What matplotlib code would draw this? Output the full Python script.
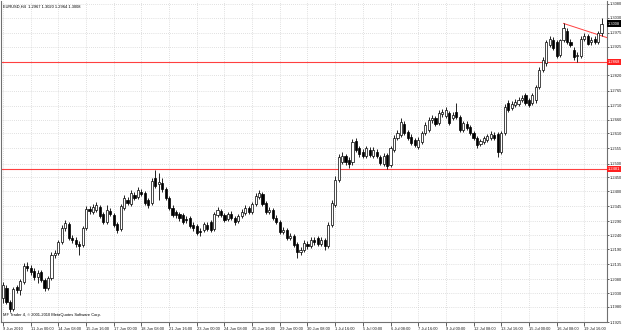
import numpy as np
import matplotlib.pyplot as plt

# EURUSD H4 candles, 9 Jun 2010 16:00 .. 20 Jul 2010
title_text = "EURUSD,H4  1.2967 1.3020 1.2964 1.3008"
copyright_text = "MF Trader 4, \u00a9 2001-2010 MetaQuotes Software Corp."

opens = [1.2013, 1.2049, 1.1999, 1.1973, 1.2053, 1.2042, 1.2071, 1.2129, 1.2122, 1.2111,
         1.2089, 1.2107, 1.2078, 1.2049, 1.2086, 1.2169, 1.2176, 1.2216, 1.2267, 1.2281,
         1.2230, 1.2223, 1.2209, 1.2205, 1.2267, 1.2335, 1.2325, 1.2332, 1.2343, 1.2317,
         1.2288, 1.2328, 1.2314, 1.2281, 1.2263, 1.2339, 1.2368, 1.2354, 1.2386, 1.2379,
         1.2397, 1.2393, 1.2368, 1.2357, 1.2448, 1.2426, 1.2430, 1.2408, 1.2375, 1.2339,
         1.2325, 1.2317, 1.2314, 1.2299, 1.2303, 1.2277, 1.2274, 1.2256, 1.2259, 1.2277,
         1.2288, 1.2263, 1.2314, 1.2328, 1.2314, 1.2299, 1.2317, 1.2303, 1.2292, 1.2310,
         1.2321, 1.2339, 1.2325, 1.2354, 1.2379, 1.2390, 1.2357, 1.2325, 1.2332, 1.2303,
         1.2288, 1.2252, 1.2259, 1.2230, 1.2238, 1.2209, 1.2180, 1.2187, 1.2209, 1.2201,
         1.2223, 1.2230, 1.2209, 1.2223, 1.2201, 1.2277, 1.2350, 1.2440, 1.2506, 1.2527,
         1.2513, 1.2506, 1.2582, 1.2556, 1.2542, 1.2527, 1.2549, 1.2527, 1.2542, 1.2524,
         1.2498, 1.2531, 1.2495, 1.2549, 1.2592, 1.2603, 1.2643, 1.2614, 1.2596, 1.2585,
         1.2560, 1.2578, 1.2611, 1.2621, 1.2658, 1.2665, 1.2647, 1.2679, 1.2672, 1.2683,
         1.2665, 1.2687, 1.2668, 1.2621, 1.2643, 1.2632, 1.2611, 1.2592, 1.2571, 1.2578,
         1.2585, 1.2592, 1.2603, 1.2607, 1.2542, 1.2611, 1.2719, 1.2701, 1.2712, 1.2716,
         1.2730, 1.2748, 1.2730, 1.2719, 1.2730, 1.2777, 1.2839, 1.2864, 1.2929, 1.2947,
         1.2940, 1.2893, 1.2947, 1.2983, 1.2940, 1.2911, 1.2889, 1.2889, 1.2954, 1.2962,
         1.2940, 1.2954, 1.2940, 1.2973]
highs = [1.2071, 1.2060, 1.2006, 1.2053, 1.2060, 1.2082, 1.2140, 1.2144, 1.2133, 1.2122,
         1.2115, 1.2115, 1.2086, 1.2093, 1.2180, 1.2187, 1.2223, 1.2277, 1.2296, 1.2288,
         1.2241, 1.2234, 1.2220, 1.2274, 1.2346, 1.2346, 1.2354, 1.2361, 1.2350, 1.2325,
         1.2350, 1.2339, 1.2321, 1.2288, 1.2354, 1.2386, 1.2379, 1.2404, 1.2397, 1.2415,
         1.2408, 1.2401, 1.2375, 1.2448, 1.2477, 1.2466, 1.2448, 1.2415, 1.2382, 1.2350,
         1.2332, 1.2325, 1.2321, 1.2310, 1.2310, 1.2288, 1.2281, 1.2267, 1.2288, 1.2288,
         1.2296, 1.2325, 1.2343, 1.2335, 1.2321, 1.2325, 1.2328, 1.2310, 1.2317, 1.2335,
         1.2350, 1.2346, 1.2361, 1.2393, 1.2404, 1.2397, 1.2364, 1.2343, 1.2339, 1.2314,
         1.2296, 1.2270, 1.2267, 1.2249, 1.2245, 1.2216, 1.2198, 1.2223, 1.2220, 1.2234,
         1.2234, 1.2238, 1.2234, 1.2230, 1.2288, 1.2368, 1.2455, 1.2535, 1.2542, 1.2535,
         1.2524, 1.2589, 1.2592, 1.2563, 1.2553, 1.2563, 1.2560, 1.2560, 1.2553, 1.2531,
         1.2538, 1.2538, 1.2563, 1.2603, 1.2621, 1.2665, 1.2654, 1.2621, 1.2607, 1.2592,
         1.2596, 1.2618, 1.2650, 1.2668, 1.2676, 1.2672, 1.2694, 1.2697, 1.2705, 1.2690,
         1.2687, 1.2719, 1.2676, 1.2654, 1.2654, 1.2639, 1.2618, 1.2600, 1.2589, 1.2600,
         1.2607, 1.2618, 1.2614, 1.2614, 1.2618, 1.2716, 1.2730, 1.2726, 1.2734, 1.2741,
         1.2748, 1.2755, 1.2737, 1.2755, 1.2784, 1.2849, 1.2886, 1.2947, 1.2965, 1.2958,
         1.2947, 1.2954, 1.3009, 1.2991, 1.2951, 1.2922, 1.2904, 1.2962, 1.2973, 1.2969,
         1.2958, 1.2962, 1.2980, 1.3027]
lows = [1.1995, 1.1992, 1.1963, 1.1966, 1.2031, 1.2024, 1.2064, 1.2111, 1.2096, 1.2078,
        1.2068, 1.2071, 1.2039, 1.2042, 1.2078, 1.2158, 1.2169, 1.2209, 1.2256, 1.2223,
        1.2212, 1.2198, 1.2169, 1.2198, 1.2259, 1.2317, 1.2317, 1.2325, 1.2303, 1.2281,
        1.2281, 1.2310, 1.2270, 1.2249, 1.2256, 1.2332, 1.2350, 1.2346, 1.2368, 1.2372,
        1.2382, 1.2350, 1.2339, 1.2350, 1.2411, 1.2368, 1.2397, 1.2368, 1.2332, 1.2306,
        1.2303, 1.2292, 1.2281, 1.2285, 1.2267, 1.2256, 1.2241, 1.2238, 1.2252, 1.2256,
        1.2252, 1.2256, 1.2306, 1.2306, 1.2288, 1.2292, 1.2296, 1.2277, 1.2285, 1.2303,
        1.2314, 1.2317, 1.2317, 1.2346, 1.2372, 1.2346, 1.2317, 1.2317, 1.2296, 1.2281,
        1.2245, 1.2245, 1.2223, 1.2223, 1.2198, 1.2158, 1.2169, 1.2180, 1.2191, 1.2194,
        1.2205, 1.2201, 1.2201, 1.2187, 1.2194, 1.2270, 1.2343, 1.2433, 1.2498, 1.2495,
        1.2484, 1.2495, 1.2542, 1.2524, 1.2520, 1.2520, 1.2524, 1.2520, 1.2520, 1.2495,
        1.2491, 1.2480, 1.2487, 1.2542, 1.2585, 1.2596, 1.2603, 1.2585, 1.2567, 1.2560,
        1.2553, 1.2571, 1.2603, 1.2614, 1.2647, 1.2636, 1.2639, 1.2668, 1.2665, 1.2639,
        1.2658, 1.2661, 1.2614, 1.2614, 1.2621, 1.2603, 1.2585, 1.2556, 1.2563, 1.2571,
        1.2578, 1.2585, 1.2585, 1.2524, 1.2535, 1.2603, 1.2687, 1.2694, 1.2705, 1.2708,
        1.2723, 1.2712, 1.2705, 1.2712, 1.2719, 1.2770, 1.2831, 1.2853, 1.2922, 1.2911,
        1.2882, 1.2886, 1.2940, 1.2933, 1.2922, 1.2878, 1.2868, 1.2882, 1.2944, 1.2929,
        1.2929, 1.2933, 1.2933, 1.2965]
closes = [1.2060, 1.1999, 1.1973, 1.2046, 1.2042, 1.2075, 1.2129, 1.2122, 1.2107, 1.2089,
          1.2104, 1.2078, 1.2049, 1.2086, 1.2169, 1.2176, 1.2216, 1.2267, 1.2285, 1.2230,
          1.2223, 1.2209, 1.2201, 1.2267, 1.2335, 1.2328, 1.2343, 1.2350, 1.2310, 1.2288,
          1.2332, 1.2317, 1.2277, 1.2259, 1.2346, 1.2375, 1.2357, 1.2393, 1.2375, 1.2404,
          1.2390, 1.2357, 1.2350, 1.2437, 1.2419, 1.2433, 1.2408, 1.2375, 1.2339, 1.2314,
          1.2314, 1.2303, 1.2288, 1.2296, 1.2274, 1.2267, 1.2249, 1.2252, 1.2281, 1.2263,
          1.2259, 1.2317, 1.2332, 1.2314, 1.2296, 1.2317, 1.2303, 1.2288, 1.2310, 1.2325,
          1.2339, 1.2325, 1.2354, 1.2382, 1.2393, 1.2354, 1.2325, 1.2332, 1.2303, 1.2288,
          1.2252, 1.2259, 1.2230, 1.2238, 1.2205, 1.2180, 1.2187, 1.2212, 1.2201, 1.2223,
          1.2216, 1.2209, 1.2223, 1.2201, 1.2277, 1.2357, 1.2440, 1.2524, 1.2527, 1.2506,
          1.2498, 1.2578, 1.2549, 1.2535, 1.2527, 1.2556, 1.2531, 1.2549, 1.2527, 1.2502,
          1.2527, 1.2491, 1.2556, 1.2592, 1.2611, 1.2650, 1.2611, 1.2592, 1.2574, 1.2567,
          1.2585, 1.2611, 1.2639, 1.2658, 1.2665, 1.2643, 1.2683, 1.2687, 1.2694, 1.2647,
          1.2676, 1.2668, 1.2621, 1.2647, 1.2629, 1.2611, 1.2592, 1.2567, 1.2582, 1.2592,
          1.2600, 1.2607, 1.2592, 1.2542, 1.2611, 1.2705, 1.2694, 1.2716, 1.2723, 1.2730,
          1.2737, 1.2719, 1.2712, 1.2748, 1.2777, 1.2839, 1.2875, 1.2940, 1.2954, 1.2918,
          1.2889, 1.2947, 1.2994, 1.2940, 1.2929, 1.2886, 1.2893, 1.2954, 1.2962, 1.2936,
          1.2947, 1.2940, 1.2973, 1.3008]

date_labels = ["9 Jun 2010", "11 Jun 00:00", "14 Jun 08:00", "15 Jun 16:00", "17 Jun 00:00",
               "18 Jun 08:00", "21 Jun 16:00", "23 Jun 00:00", "24 Jun 08:00", "25 Jun 16:00",
               "29 Jun 00:00", "30 Jun 08:00", "1 Jul 16:00", "5 Jul 00:00", "6 Jul 08:00",
               "7 Jul 16:00", "9 Jul 00:00", "12 Jul 08:00", "13 Jul 16:00", "15 Jul 00:00",
               "16 Jul 08:00", "19 Jul 16:00"]
date_bars = list(range(0, 169, 8))

price_ticks = [1.1925, 1.1980, 1.2030, 1.2080, 1.2135, 1.2190, 1.2240, 1.2290, 1.2345,
               1.2400, 1.2450, 1.2500, 1.2555, 1.2610, 1.2660, 1.2710, 1.2765, 1.2820,
               1.2870, 1.2925, 1.2975, 1.3030, 1.3080]

levels = [1.2868, 1.2481]          # horizontal lines
trend_bars = [162, 172]            # trendline anchor points
trend_prices = [1.3009, 1.2968]
last_price = 1.3008

FONT = 'Liberation Sans'
FS = 2.9

o = np.array(opens); h = np.array(highs); l = np.array(lows); c = np.array(closes)
idx = np.arange(len(o))

fig = plt.figure(figsize=(6.25, 3.32), dpi=100)
fig.patch.set_facecolor('white')
ax = fig.add_axes([1/625, 10/332, 606/625, 321/332])
ax.set_xlim(-0.58, 174.57)
ax.set_ylim(1.19264, 1.30904)

# grid
ax.set_xticks(date_bars)
ax.set_yticks(price_ticks)
ax.grid(True, color='#c4c4c4', linestyle=(0, (1, 2)), linewidth=0.5)
ax.set_axisbelow(True)

# candles
ax.vlines(idx, l, h, color='black', linewidth=0.6, zorder=3)
up = c >= o
body_h = np.maximum(np.abs(c - o), 0.00008)
ax.bar(idx[up], body_h[up], bottom=np.minimum(o, c)[up], width=0.62,
       facecolor='white', edgecolor='black', linewidth=0.5, zorder=4)
ax.bar(idx[~up], body_h[~up], bottom=np.minimum(o, c)[~up], width=0.62,
       facecolor='black', edgecolor='black', linewidth=0.5, zorder=4)

# levels and trendline
for lv in levels:
    ax.axhline(lv, color='#ff4040', linewidth=0.8, zorder=2)
slope = (trend_prices[1] - trend_prices[0]) / (trend_bars[1] - trend_bars[0])
tx = [trend_bars[0], 175]
ty = [trend_prices[0], trend_prices[0] + slope * (175 - trend_bars[0])]
ax.plot(tx, ty, color='#ff4040', linewidth=0.7, zorder=2)

# axes style
ax.spines['top'].set_visible(False)
for s in ['left', 'bottom', 'right']:
    ax.spines[s].set_color('#707070')
    ax.spines[s].set_linewidth(0.8)
ax.yaxis.tick_right()
# the 1.2870 label sits under the red level box, so leave it blank
ylabels = ['' if abs(p - levels[0]) < 0.0005 else '%.4f' % p for p in price_ticks]
ax.set_yticklabels(ylabels, family=FONT)
ax.set_xticklabels(date_labels, family=FONT)
ax.tick_params(axis='y', length=1.5, width=0.5, pad=0.8, labelsize=FS, colors='#202020')
ax.tick_params(axis='x', length=3, width=0.5, pad=0.3, labelsize=FS, colors='#202020')
for lab in ax.get_xticklabels():
    lab.set_ha('left')

ytr = ax.get_yaxis_transform()
for lv in levels:
    ax.text(1.0015, lv, '%.4f' % lv, transform=ytr, fontsize=FS, family=FONT, color='white',
            va='center', ha='left', clip_on=False, zorder=10,
            bbox=dict(boxstyle='square,pad=0.3', facecolor='#ff2020', edgecolor='none'))
ax.text(1.0015, last_price, '%.4f' % last_price, transform=ytr, fontsize=FS, family=FONT,
        color='white', va='center', ha='left', clip_on=False, zorder=10,
        bbox=dict(boxstyle='square,pad=0.3', facecolor='black', edgecolor='none'))

ax.text(0.004, 0.99, title_text, transform=ax.transAxes, fontsize=FS, family=FONT,
        va='top', ha='left')
ax.text(0.004, 0.015, copyright_text, transform=ax.transAxes, fontsize=FS, family=FONT,
        va='bottom', ha='left')

fig.savefig('out.png', dpi=100, facecolor='white')
